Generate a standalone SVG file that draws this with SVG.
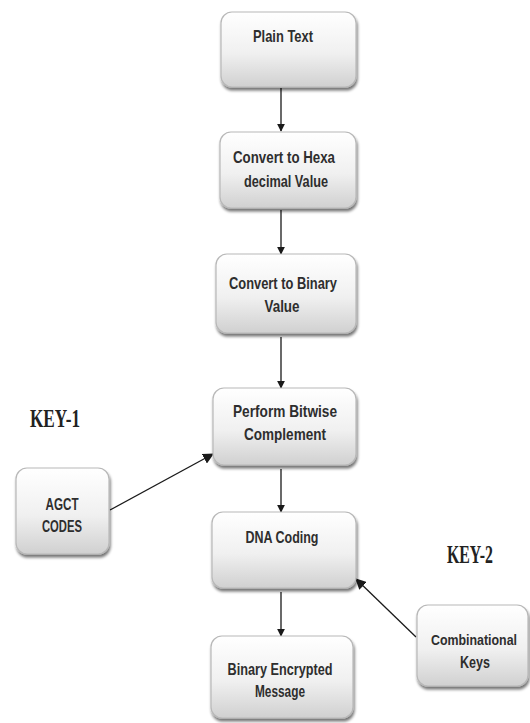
<svg xmlns="http://www.w3.org/2000/svg" width="530" height="723" viewBox="0 0 530 723">
  <defs>
    <linearGradient id="boxFill" x1="0" y1="0" x2="0" y2="1">
      <stop offset="0" stop-color="#ffffff"/>
      <stop offset="0.55" stop-color="#f0f0f0"/>
      <stop offset="1" stop-color="#d0d0d0"/>
    </linearGradient>
    <filter id="shadow" x="-10%" y="-10%" width="125%" height="130%">
      <feGaussianBlur in="SourceAlpha" stdDeviation="1.6"/>
      <feOffset dx="1" dy="2.5" result="b"/>
      <feComponentTransfer><feFuncA type="linear" slope="0.55"/></feComponentTransfer>
      <feMerge><feMergeNode/><feMergeNode in="SourceGraphic"/></feMerge>
    </filter>
    <marker id="arrow" viewBox="0 0 10 10" refX="9" refY="5" markerWidth="8" markerHeight="8" markerUnits="userSpaceOnUse" orient="auto">
      <path d="M0,0 L10,5 L0,10 z" fill="#1a1a1a"/>
    </marker>
    <marker id="arrowBig" viewBox="0 0 10 10" refX="9" refY="5" markerWidth="11" markerHeight="11" markerUnits="userSpaceOnUse" orient="auto">
      <path d="M0,0 L10,5 L0,10 z" fill="#1a1a1a"/>
    </marker>
  </defs>
  <style>
    .box { fill: url(#boxFill); stroke: #b8b8b8; stroke-width: 1.2; filter: url(#shadow); }
    .lbl { font-family: "Liberation Sans", Arial, sans-serif; font-weight: bold; font-size: 17px; fill: #2e2e2e; text-anchor: middle; }
    .small { font-size: 14px; }
    .key { font-family: "Liberation Serif", "Times New Roman", serif; font-weight: bold; font-size: 25px; fill: #222222; text-anchor: middle; }
    .edge { stroke: #1a1a1a; stroke-width: 1.3; fill: none; }
  </style>
  <rect width="530" height="723" fill="#ffffff"/>

  <!-- connectors -->
  <g id="connectors">
    <line class="edge" x1="281" y1="88" x2="281" y2="131" marker-end="url(#arrow)"/>
    <line class="edge" x1="281" y1="210" x2="281" y2="254" marker-end="url(#arrow)"/>
    <line class="edge" x1="281" y1="337" x2="281" y2="388" marker-end="url(#arrow)"/>
    <line class="edge" x1="281" y1="469" x2="281" y2="512" marker-end="url(#arrow)"/>
    <line class="edge" x1="281" y1="592" x2="281" y2="636" marker-end="url(#arrow)"/>
    <line class="edge" x1="110" y1="510" x2="213" y2="454" marker-end="url(#arrowBig)"/>
    <line class="edge" x1="416" y1="637" x2="356" y2="579" marker-end="url(#arrowBig)"/>
  </g>

  <!-- process nodes -->
  <g id="plain-text">
    <rect class="box" x="221" y="12" width="135" height="75" rx="11"/>
    <text class="lbl" x="283" y="42" textLength="60" lengthAdjust="spacingAndGlyphs">Plain Text</text>
  </g>
  <g id="to-hex">
    <rect class="box" x="220" y="132" width="136" height="76" rx="11"/>
    <text class="lbl" x="284" y="163" textLength="102" lengthAdjust="spacingAndGlyphs">Convert to Hexa</text>
    <text class="lbl" x="286" y="187" textLength="84" lengthAdjust="spacingAndGlyphs">decimal Value</text>
  </g>
  <g id="to-binary">
    <rect class="box" x="216" y="254" width="140" height="79" rx="11"/>
    <text class="lbl" x="283" y="289" textLength="108" lengthAdjust="spacingAndGlyphs">Convert to Binary</text>
    <text class="lbl" x="282" y="312" textLength="35" lengthAdjust="spacingAndGlyphs">Value</text>
  </g>
  <g id="bitwise">
    <rect class="box" x="213" y="388" width="143" height="77" rx="11"/>
    <text class="lbl" x="285" y="417" textLength="104" lengthAdjust="spacingAndGlyphs">Perform Bitwise</text>
    <text class="lbl" x="285" y="440" textLength="82" lengthAdjust="spacingAndGlyphs">Complement</text>
  </g>
  <g id="dna-coding">
    <rect class="box" x="212" y="512" width="144" height="76" rx="11"/>
    <text class="lbl" x="282" y="543" textLength="73" lengthAdjust="spacingAndGlyphs">DNA Coding</text>
  </g>
  <g id="encrypted">
    <rect class="box" x="211" y="636" width="142" height="82" rx="11"/>
    <text class="lbl" x="280" y="675" textLength="105" lengthAdjust="spacingAndGlyphs">Binary Encrypted</text>
    <text class="lbl" x="280" y="697" textLength="50" lengthAdjust="spacingAndGlyphs">Message</text>
  </g>

  <!-- key inputs -->
  <g id="agct-codes">
    <rect class="box" x="16" y="468" width="93" height="86" rx="11"/>
    <text class="lbl" x="62" y="510" textLength="33" lengthAdjust="spacingAndGlyphs">AGCT</text>
    <text class="lbl" x="62" y="532" textLength="40" lengthAdjust="spacingAndGlyphs">CODES</text>
  </g>
  <g id="combinational-keys">
    <rect class="box" x="417" y="605" width="111" height="81" rx="11"/>
    <text class="lbl small" x="474" y="645" textLength="86" lengthAdjust="spacingAndGlyphs">Combinational</text>
    <text class="lbl" x="475" y="668" textLength="30" lengthAdjust="spacingAndGlyphs">Keys</text>
  </g>

  <g id="labels">
    <text class="key" x="55" y="427" textLength="50" lengthAdjust="spacingAndGlyphs">KEY-1</text>
    <text class="key" x="470" y="563" textLength="46" lengthAdjust="spacingAndGlyphs">KEY-2</text>
  </g>
</svg>
